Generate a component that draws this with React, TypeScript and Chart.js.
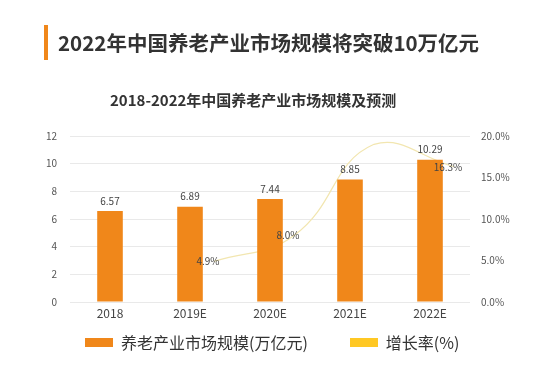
import React, { useEffect, useRef } from "react";
import { Chart, registerables } from "chart.js";

Chart.register(...registerables);

const categories = ["2018", "2019E", "2020E", "2021E", "2022E"];
const marketSize = [6.57, 6.89, 7.44, 8.85, 10.29];
const growthRate: (number | null)[] = [null, 4.9, 8.0, 19.0, 16.3];
const growthLabels = ["", "4.9%", "8.0%", "", "16.3%"];
const leftTickValues = [0, 2, 4, 6, 8, 10, 12];
const rightTickValues = [0, 5, 10, 15, 20];

const TITLE = "2022年中国养老产业市场规模将突破10万亿元";
const SUBTITLE = "2018-2022年中国养老产业市场规模及预测";
const BAR_LEGEND = "养老产业市场规模(万亿元)";
const LINE_LEGEND = "增长率(%)";

const ORANGE = "#F0871A";
const YELLOW = "#FFC824";
const LINE_COLOR = "#F2E6B0";
const FONT = "'Noto Sans CJK SC', 'Noto Sans', sans-serif";
const LINE_SHIFT = 0.3;

const labelPlugin = {
  id: "valueLabels",
  afterDatasetsDraw(chart: any) {
    const ctx = chart.ctx;
    ctx.save();
    ctx.font = `10px ${FONT}`;
    ctx.fillStyle = "#444";
    ctx.textAlign = "center";
    ctx.textBaseline = "bottom";
    const barMeta = chart.getDatasetMeta(0);
    barMeta.data.forEach((el: any, i: number) => {
      ctx.fillText(marketSize[i].toFixed(2), el.x, el.y - 5);
    });
    const lineMeta = chart.getDatasetMeta(1);
    ctx.textBaseline = "middle";
    const pts = growthRate
      .map((v, i) => ({ v, i }))
      .filter((d) => d.v !== null);
    lineMeta.data.forEach((el: any, k: number) => {
      const idx = pts[k].i;
      const t = growthLabels[idx];
      if (t) ctx.fillText(t, el.x - 6, el.y);
    });
    ctx.restore();
  },
};

export default function App() {
  const ref = useRef<HTMLCanvasElement | null>(null);
  useEffect(() => {
    document.body.style.margin = "0";
    const lineData = growthRate
      .map((v, i) => (v === null ? null : { x: i + LINE_SHIFT, y: v }))
      .filter((d) => d !== null);
    const chart = new Chart(ref.current as HTMLCanvasElement, {
      type: "bar",
      data: {
        labels: categories,
        datasets: [
          {
            type: "bar",
            label: BAR_LEGEND,
            data: marketSize,
            backgroundColor: ORANGE,
            categoryPercentage: 1,
            barPercentage: 0.32,
            grouped: false,
            xAxisID: "x",
            yAxisID: "y",
            order: 1,
          },
          {
            type: "line",
            label: LINE_LEGEND,
            data: lineData as any,
            borderColor: LINE_COLOR,
            borderWidth: 1.2,
            pointRadius: 0,
            tension: 0.45,
            fill: false,
            xAxisID: "xLine",
            yAxisID: "y2",
            order: 2,
          } as any,
        ],
      },
      plugins: [labelPlugin],
      options: {
        responsive: false,
        animation: false,
        layout: { padding: { top: 136, bottom: 52, left: 0, right: 0 } },
        plugins: {
          legend: { display: false },
          tooltip: { enabled: false },
        },
        scales: {
          x: {
            type: "category",
            offset: true,
            grid: { display: false, drawTicks: false },
            border: { display: false },
            ticks: {
              color: "#444",
              font: { size: 12, family: FONT },
              padding: 4,
            },
            afterFit: (s: any) => {
              s.height = 22;
            },
          },
          xLine: {
            type: "linear",
            display: false,
            offset: false,
            grace: 0,
            bounds: "data",
            min: -0.5,
            max: 4.5,
          },
          y: {
            position: "left",
            min: 0,
            max: 12,
            afterBuildTicks: (s: any) => {
              s.ticks = leftTickValues.map((v) => ({ value: v }));
            },
            grid: { color: "#E9E9E9", lineWidth: 1, drawTicks: false },
            border: { display: false },
            ticks: {
              color: "#555",
              font: { size: 10, family: FONT },
              padding: 13,
            },
            afterFit: (s: any) => {
              s.width = 70;
            },
          },
          y2: {
            position: "right",
            min: 0,
            max: 20,
            afterBuildTicks: (s: any) => {
              s.ticks = rightTickValues.map((v) => ({ value: v }));
            },
            grid: { display: false, drawTicks: false },
            border: { display: false },
            ticks: {
              color: "#555",
              font: { size: 10, family: FONT },
              padding: 11,
              callback: (v: any) => Number(v).toFixed(1) + "%",
            },
            afterFit: (s: any) => {
              s.width = 84;
            },
          },
        },
      } as any,
    });
    return () => chart.destroy();
  }, []);

  return (
    <div
      style={{
        position: "relative",
        width: 554,
        height: 376,
        background: "#fff",
        fontFamily: FONT,
        overflow: "hidden",
      }}
    >
      <canvas
        ref={ref}
        width={554}
        height={376}
        style={{ position: "absolute", left: 0, top: 0 }}
      />
      <div
        style={{
          position: "absolute",
          left: 44,
          top: 25,
          width: 4,
          height: 35,
          background: ORANGE,
        }}
      />
      <div
        style={{
          position: "absolute",
          left: 58,
          top: 27,
          fontSize: 20.5,
          fontWeight: 700,
          color: "#333",
          lineHeight: "30px",
          whiteSpace: "nowrap",
        }}
      >
        {TITLE}
      </div>
      <div
        style={{
          position: "absolute",
          left: 110,
          top: 89,
          fontSize: 15,
          fontWeight: 700,
          color: "#333",
          lineHeight: "22px",
          whiteSpace: "nowrap",
        }}
      >
        {SUBTITLE}
      </div>
      <div
        style={{
          position: "absolute",
          left: 85,
          top: 330,
          display: "flex",
          alignItems: "center",
          whiteSpace: "nowrap",
          fontSize: 16,
          color: "#333",
          lineHeight: "24px",
        }}
      >
        <span style={{ display: "inline-block", width: 28, height: 9, background: ORANGE, marginRight: 8 }} />
        <span>{BAR_LEGEND}</span>
        <span style={{ display: "inline-block", width: 28, height: 9, background: YELLOW, marginLeft: 42, marginRight: 8 }} />
        <span>{LINE_LEGEND}</span>
      </div>
    </div>
  );
}
